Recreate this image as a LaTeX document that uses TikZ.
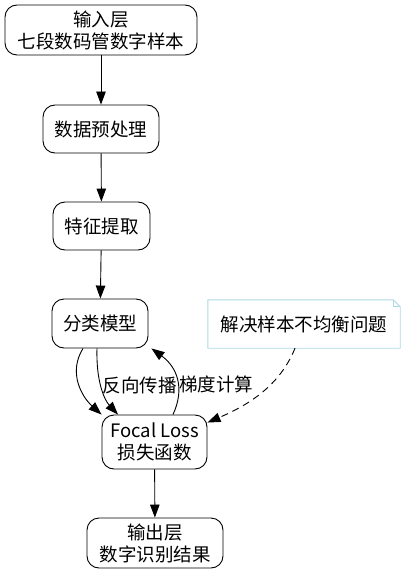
\documentclass[tikz,border=0pt]{standalone}
\usepackage{fontspec}
\setmainfont{Noto Sans CJK SC}
\usetikzlibrary{arrows.meta}
\definecolor{notebl}{HTML}{ADD8E6}
\begin{document}
\begin{tikzpicture}[x=1pt,y=-1pt,
    box/.style={draw,rounded corners=12pt,line width=0.9pt,align=center,
      inner sep=0pt,font=\fontsize{18.5}{22}\selectfont},
    edge/.style={line width=0.9pt,-{Triangle[length=13pt,width=9.5pt]}},
    lbl/.style={font=\fontsize{18.5}{22}\selectfont,inner sep=1pt}]
      \useasboundingbox (0,0) rectangle (406,575);
      \node[box,minimum width=192pt,minimum height=50pt] (in) at (101,30) {输入层\\七段数码管数字样本};
      \node[box,minimum width=116pt,minimum height=48pt] (pre) at (101,129) {数据预处理};
      \node[box,minimum width=97pt,minimum height=48pt] (feat) at (101.5,226) {特征提取};
      \node[box,minimum width=96pt,minimum height=49pt] (cls) at (100,323.5) {分类模型};
      \node[box,minimum width=105pt,minimum height=54pt] (loss) at (154.5,442) {Focal Loss\\损失函数};
      \node[box,minimum width=136pt,minimum height=50pt] (out) at (155,543) {输出层\\数字识别结果};
      % note with folded corner
      \node[lbl,minimum width=192pt,minimum height=48pt] (note) at (304,324) {解决样本不均衡问题};
      \draw[notebl,line width=0.9pt] (note.north west) -- ([xshift=-7pt]note.north east)
        -- ([yshift=-7pt]note.north east) -- (note.south east) -- (note.south west) -- cycle;
      \draw[notebl,line width=0.9pt] ([xshift=-7pt]note.north east) |- ([yshift=-7pt]note.north east);
      \foreach \a/\b in {in/pre,pre/feat,feat/cls,loss/out}
        \draw[edge] (\a) -- (\b);
      \draw[edge] ([xshift=-17pt]cls.south) .. controls +(-15,24) and +(-20,-18) .. (loss.north west);
      \draw[edge] ([xshift=-3pt]cls.south) .. controls +(-1,32) and +(-14,-15) .. ([xshift=-36.5pt]loss.north)
        node[lbl,pos=0.47,anchor=west] {反向传播};
      \draw[edge] ([xshift=18.5pt]loss.north) .. controls +(12,-26) and +(26,19) .. ([xshift=3pt]cls.south east)
        node[lbl,pos=0.42,anchor=west] {梯度计算};
      \draw[edge,dash pattern=on 7pt off 5pt] ([xshift=-9pt]note.south) .. controls +(-15,37) and +(42,-18) .. ([yshift=-8pt]loss.north east);
    \end{tikzpicture}
\end{document}
